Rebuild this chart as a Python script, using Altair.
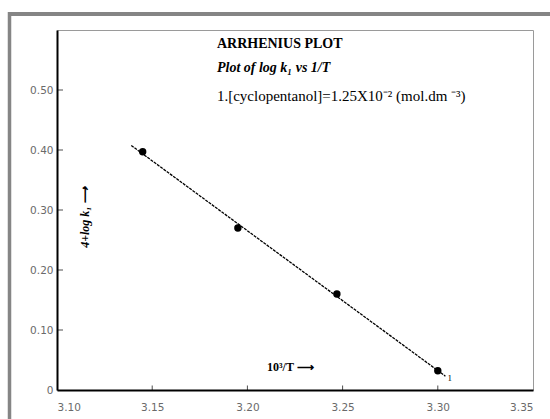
import altair as alt
import pandas as pd

# Reciprocal temperature (10^3/T) and 4 + log k1 for cyclopentanol run 1
inv_t = [3.145, 3.195, 3.247, 3.300]
log_k = [0.397, 0.270, 0.160, 0.032]

x_ticks = [3.10, 3.15, 3.20, 3.25, 3.30, 3.35]
y_ticks = [0.0, 0.1, 0.2, 0.3, 0.4, 0.5]
fit_extent = [3.139, 3.304]

pts = pd.DataFrame({"x": inv_t, "y": log_k})

xs = alt.Scale(domain=[3.10, 3.35], nice=False, zero=False)
ys = alt.Scale(domain=[0.0, 0.6], nice=False)

SERIF = "Liberation Serif"

x_axis = alt.Axis(values=x_ticks, format=".2f", title=None, grid=False,
                  domainColor="black", domainWidth=2, ticks=False,
                  labelPadding=12, labelFont="DejaVu Sans", labelFontSize=10.5,
                  labelColor="#6a6a6a")
y_axis = alt.Axis(values=y_ticks, title=None, grid=False,
                  labelExpr="datum.value == 0 ? '0' : format(datum.value, '.2f')",
                  domainColor="black", domainWidth=2, ticks=False,
                  labelPadding=4, labelFont="DejaVu Sans", labelFontSize=10.5,
                  labelColor="#6a6a6a")

base = alt.Chart(pts)

# least-squares line through the four points
fit = base.transform_regression("x", "y", extent=fit_extent).mark_line(
    color="black", strokeWidth=1.3, strokeDash=[3, 1]
).encode(x=alt.X("x:Q", scale=xs, axis=x_axis), y=alt.Y("y:Q", scale=ys, axis=y_axis))

dots = base.mark_point(filled=True, color="black", size=55, opacity=1).encode(
    x=alt.X("x:Q", scale=xs), y=alt.Y("y:Q", scale=ys))

# series label next to the last point
series_lbl = alt.Chart(pts.tail(1)).mark_text(
    text="1", font=SERIF, fontSize=9, dx=12, dy=7, color="black"
).encode(x=alt.X("x:Q", scale=xs), y=alt.Y("y:Q", scale=ys))

# inward tick marks
xt = alt.Chart(pd.DataFrame({"x": x_ticks[1:-1]})).mark_tick(
    color="black", orient="vertical", size=5, thickness=1, yOffset=-2
).encode(x=alt.X("x:Q", scale=xs), y=alt.datum(0.0, scale=ys))
yt = alt.Chart(pd.DataFrame({"y": y_ticks[1:]})).mark_tick(
    color="black", orient="horizontal", size=6, thickness=1, xOffset=3
).encode(y=alt.Y("y:Q", scale=ys), x=alt.datum(3.10, scale=xs))

one = pd.DataFrame({"k": [0]})

def note(text, x, y, size, weight="normal", style="normal", angle=0, align="left"):
    return alt.Chart(one).mark_text(
        text=text, font=SERIF, fontSize=size, fontWeight=weight, fontStyle=style,
        angle=angle, align=align, baseline="middle", color="black"
    ).encode(x=alt.datum(x, scale=xs), y=alt.datum(y, scale=ys))

notes = [
    note("ARRHENIUS PLOT", 3.184, 0.577, 14, weight="bold"),
    note("Plot of log k\u2081  vs 1/T", 3.184, 0.537, 14, weight="bold", style="italic"),
    note("1.[cyclopentanol]=1.25X10\u207b\u00b2 (mol.dm \u207b\u00b3)", 3.184, 0.490, 15),
    note("4+log k\u2081 \u27f6", 3.1147, 0.288, 12, weight="bold", style="italic", angle=270, align="center"),
    note("10\u00b3/T \u27f6", 3.2103, 0.038, 12, weight="bold"),
]

# grey page frame along the top and left edges
frame_top = alt.Chart(one).mark_rule(color="#858585", strokeWidth=4).encode(
    x=alt.value(-49), x2=alt.value(493), y=alt.value(-16))
frame_left = alt.Chart(one).mark_rule(color="#858585", strokeWidth=3.5).encode(
    x=alt.value(-47.5), y=alt.value(-18), y2=alt.value(389))

chart = alt.layer(
    frame_top, frame_left, fit, dots, series_lbl, xt, yt, *notes
).properties(
    width=476, height=360,
    autosize=alt.AutoSizeParams(type="none"),
    padding={"left": 57, "top": 30, "right": 17, "bottom": 29},
    background="white",
).configure_view(stroke="#9a9a9a", strokeWidth=1)

chart.save("out.html", embed_options={"renderer": "svg", "actions": False})
